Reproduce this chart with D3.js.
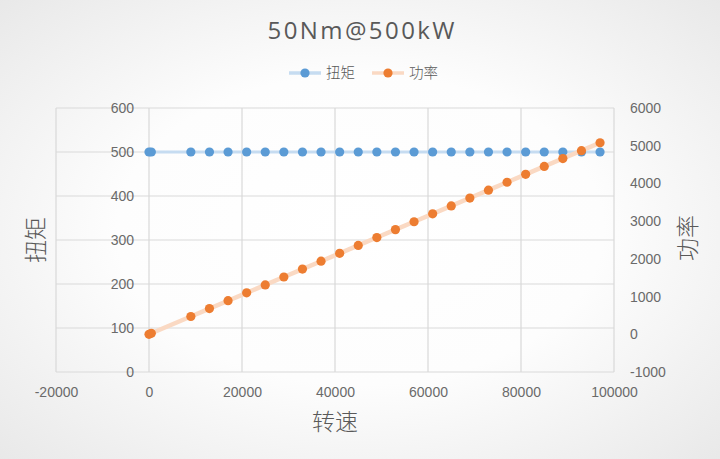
<!DOCTYPE html>
<html><head><meta charset="utf-8">
<script src="https://cdn.jsdelivr.net/npm/d3@7"></script>
<style>html,body{margin:0;padding:0;background:#fff;}svg{display:block;}</style>
</head><body>
<script>
const title = "50Nm@500kW";
const seriesNames = ["扭矩", "功率"];
const speed = [0, 500, 9000, 13000, 17000, 21000, 25000, 29000, 33000, 37000, 41000, 45000, 49000, 53000, 57000, 61000, 65000, 69000, 73000, 77000, 81000, 85000, 89000, 93000, 97000];
const torque = [500, 500, 500, 500, 500, 500, 500, 500, 500, 500, 500, 500, 500, 500, 500, 500, 500, 500, 500, 500, 500, 500, 500, 500, 500];
const power = [0, 26.2, 471.2, 680.7, 890.1, 1099.6, 1309.0, 1518.4, 1727.9, 1937.3, 2146.8, 2356.2, 2565.6, 2775.1, 2984.5, 3194.0, 3403.4, 3612.8, 3822.3, 4031.7, 4241.2, 4450.6, 4660.0, 4869.5, 5078.9];
const xTicks = [-20000, 0, 20000, 40000, 60000, 80000, 100000];
const yLeftTicks = [0, 100, 200, 300, 400, 500, 600];
const yRightTicks = [-1000, 0, 1000, 2000, 3000, 4000, 5000, 6000];
const xTitle = "转速", yLeftTitle = "扭矩", yRightTitle = "功率";

const W = 720, H = 459;
const svg = d3.select("body").append("svg").attr("width", W).attr("height", H);
const defs = svg.append("defs");
const rg = defs.append("radialGradient").attr("id", "bg").attr("cx", "50%").attr("cy", "50%").attr("r", "75%");
rg.append("stop").attr("offset", "0%").attr("stop-color", "#ffffff");
rg.append("stop").attr("offset", "45%").attr("stop-color", "#fdfdfd");
rg.append("stop").attr("offset", "100%").attr("stop-color", "#e6e6e6");
svg.append("rect").attr("width", W).attr("height", H).attr("fill", "url(#bg)");

const x = d3.scaleLinear().domain([-20000, 100000]).range([56, 614]);
const yL = d3.scaleLinear().domain([0, 600]).range([372, 108]);
const yR = d3.scaleLinear().domain([-1000, 6000]).range([372, 108]);

const grid = "#d9d9d9", txt = "#6a6a6a";
const tickFont = "'Liberation Sans', Arial, sans-serif";
const cjk = "'Noto Sans CJK SC', sans-serif";

// gridlines
svg.append("g").selectAll("line").data(yLeftTicks).join("line")
  .attr("x1", x(-20000)).attr("x2", x(100000))
  .attr("y1", d => yL(d)).attr("y2", d => yL(d))
  .attr("stroke", grid).attr("stroke-width", 1.2);
svg.append("g").selectAll("line").data(xTicks).join("line")
  .attr("x1", d => x(d)).attr("x2", d => x(d))
  .attr("y1", yL(0)).attr("y2", yL(600))
  .attr("stroke", grid).attr("stroke-width", 1.2);

// axes via d3 axis generators (labels only)
const fmt = d => String(d);
const axX = svg.append("g").attr("transform", `translate(0,${yL(0)})`)
  .call(d3.axisBottom(x).tickValues(xTicks).tickSize(0).tickPadding(15).tickFormat(fmt));
const axL = svg.append("g").attr("transform", `translate(${x(0)},0)`)
  .call(d3.axisLeft(yL).tickValues(yLeftTicks).tickSize(0).tickPadding(15).tickFormat(fmt));
const axR = svg.append("g").attr("transform", `translate(${x(100000)},0)`)
  .call(d3.axisRight(yR).tickValues(yRightTicks).tickSize(0).tickPadding(16).tickFormat(fmt));
[axX, axL, axR].forEach(a => {
  a.select(".domain").remove();
  a.selectAll("text").attr("fill", txt).style("font-family", tickFont).style("font-size", "14px");
});

// series
const line = (ys, yscale) => d3.line().x((d, i) => x(speed[i])).y((d) => yscale(d))(ys);
svg.append("path").attr("d", line(torque, yL)).attr("fill", "none")
  .attr("stroke", "#c6dcf1").attr("stroke-width", 3).attr("stroke-linecap", "round");
svg.append("g").selectAll("circle").data(torque).join("circle")
  .attr("cx", (d, i) => x(speed[i])).attr("cy", d => yL(d)).attr("r", 4.6).attr("fill", "#5b9bd5");
svg.append("path").attr("d", line(power, yR)).attr("fill", "none")
  .attr("stroke", "#fad9c3").attr("stroke-width", 4.5).attr("stroke-linecap", "round");
svg.append("g").selectAll("circle").data(power).join("circle")
  .attr("cx", (d, i) => x(speed[i])).attr("cy", d => yR(d)).attr("r", 4.6).attr("fill", "#ed7d31");

// title
svg.append("text").attr("x", 361).attr("y", 39).attr("text-anchor", "middle")
  .attr("fill", "#595959").style("font-family", "'Open Sans', sans-serif").style("font-weight", 400)
  .style("font-size", "24px").attr("textLength", 187).attr("lengthAdjust", "spacing").text(title);

// legend
const leg = [{name: seriesNames[0], lc: "#c6dcf1", mc: "#5b9bd5", x0: 289}, {name: seriesNames[1], lc: "#fad9c3", mc: "#ed7d31", x0: 372}];
leg.forEach(l => {
  svg.append("line").attr("x1", l.x0).attr("x2", l.x0 + 32).attr("y1", 73).attr("y2", 73)
    .attr("stroke", l.lc).attr("stroke-width", 3.5);
  svg.append("circle").attr("cx", l.x0 + 16).attr("cy", 73).attr("r", 4.6).attr("fill", l.mc);
  svg.append("text").attr("x", l.x0 + 37).attr("y", 78).attr("fill", "#595959")
    .style("font-family", cjk).style("font-weight", 300).style("font-size", "14.5px").text(l.name);
});

// axis titles
svg.append("text").attr("x", 335).attr("y", 430).attr("text-anchor", "middle").attr("fill", "#595959")
  .style("font-family", cjk).style("font-weight", 300).style("font-size", "23px").text(xTitle);
svg.append("text").attr("transform", "translate(44,240) rotate(-90)").attr("text-anchor", "middle").attr("fill", "#595959")
  .style("font-family", cjk).style("font-weight", 300).style("font-size", "23px").text(yLeftTitle);
svg.append("text").attr("transform", "translate(696,238) rotate(-90)").attr("text-anchor", "middle").attr("fill", "#595959")
  .style("font-family", cjk).style("font-weight", 300).style("font-size", "23px").text(yRightTitle);
</script>
</body></html>
